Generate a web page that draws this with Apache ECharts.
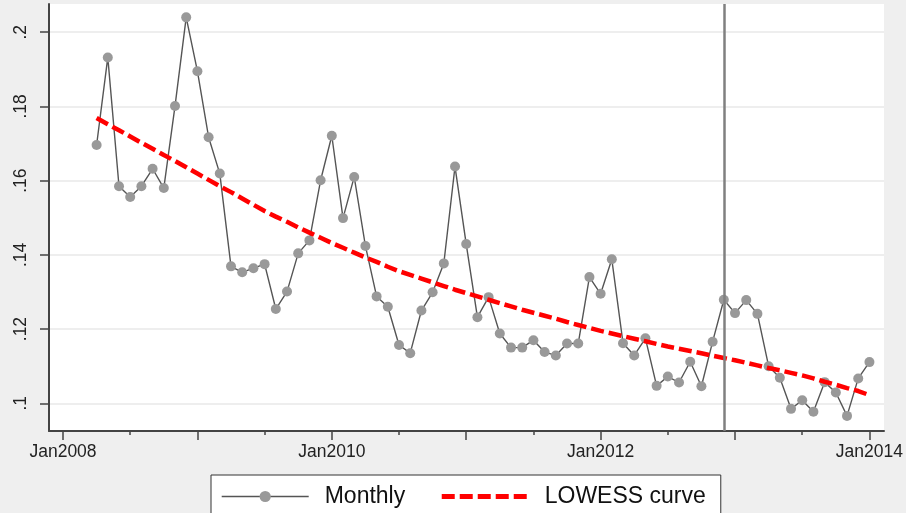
<!DOCTYPE html>
<html>
<head>
<meta charset="utf-8">
<script src="https://cdn.jsdelivr.net/npm/echarts@6/dist/echarts.min.js"></script>
<style>
html,body{margin:0;padding:0;background:#efefef;}
#chart{width:906px;height:513px;}
</style>
</head>
<body>
<div id="chart"></div>
<script>
// Month labels (YYYY-MM) of observations
var monthLabels = [
  '2008-04','2008-05','2008-06','2008-07','2008-08','2008-09','2008-10','2008-11','2008-12',
  '2009-01','2009-02','2009-03','2009-04','2009-05','2009-06','2009-07','2009-08','2009-09','2009-10','2009-11','2009-12',
  '2010-01','2010-02','2010-03','2010-04','2010-05','2010-06','2010-07','2010-08','2010-09','2010-10','2010-11','2010-12',
  '2011-01','2011-02','2011-03','2011-04','2011-05','2011-06','2011-07','2011-08','2011-09','2011-10','2011-11','2011-12',
  '2012-01','2012-02','2012-03','2012-04','2012-05','2012-06','2012-07','2012-08','2012-09','2012-10','2012-11','2012-12',
  '2013-01','2013-02','2013-03','2013-04','2013-05','2013-06','2013-07','2013-08','2013-09','2013-10','2013-11','2013-12',
  '2014-01'
];
// Monthly values
var monthlyValues = [
  0.1696,0.1932,0.1585,0.1556,0.1585,0.1632,0.1580,0.1801,0.2040,
  0.1895,0.1717,0.1619,0.1369,0.1353,0.1364,0.1375,0.1254,0.1301,0.1404,0.1439,0.1601,
  0.1721,0.1499,0.1610,0.1424,0.1288,0.1260,0.1157,0.1135,0.1250,0.1299,0.1377,0.1638,
  0.1429,0.1232,0.1286,0.1188,0.1150,0.1150,0.1170,0.1138,0.1129,0.1161,0.1161,0.1340,
  0.1295,0.1388,0.1162,0.1129,0.1175,0.1047,0.1072,0.1056,0.1112,0.1046,0.1166,0.1279,
  0.1243,0.1278,0.1241,0.1100,0.1069,0.0985,0.1008,0.0977,0.1057,0.1029,0.0966,0.1067,
  0.1111
];
// LOWESS curve values
var lowessValues = [
  0.1769,0.1752,0.1736,0.1719,0.1702,0.1686,0.1669,0.1653,0.1636,
  0.1619,0.1602,0.1585,0.1569,0.1552,0.1535,0.1518,0.1503,0.1489,0.1474,0.1460,0.1446,
  0.1432,0.1419,0.1406,0.1393,0.1381,0.1368,0.1356,0.1346,0.1336,0.1326,0.1316,0.1306,
  0.1297,0.1288,0.1279,0.1270,0.1261,0.1252,0.1244,0.1236,0.1228,0.1219,0.1211,0.1203,
  0.1195,0.1188,0.1181,0.1174,0.1167,0.1160,0.1153,0.1147,0.1141,0.1135,0.1128,0.1122,
  0.1116,0.1109,0.1102,0.1095,0.1089,0.1082,0.1075,0.1067,0.1058,0.1050,0.1041,0.1033,
  0.1022
];
var seriesNames = ['Monthly', 'LOWESS curve'];
var xLabelMonths = ['2008-01','2010-01','2012-01','2014-01'];
var xYearTickMonths = ['2008-01','2009-01','2010-01','2011-01','2012-01','2013-01','2014-01'];
var xHalfTickMonths = ['2008-07','2009-07','2010-07','2011-07','2012-07','2013-07'];
var yTicks = [0.1, 0.12, 0.14, 0.16, 0.18, 0.2];
var markerMonth = '2012-12';

var MON = ['Jan','Feb','Mar','Apr','May','Jun','Jul','Aug','Sep','Oct','Nov','Dec'];
function idx(s){ var p = s.split('-'); return (+p[0] - 2008) * 12 + (+p[1] - 1); }
function fmtX(v){ var y = 2008 + Math.floor(v / 12); var m = Math.round(v - (y - 2008) * 12); return MON[m] + y; }
function fmtY(v){ return String(Math.round(v * 100) / 100).replace(/^0/, ''); }

var monthlyData = monthLabels.map(function(s, i){ return [idx(s), monthlyValues[i]]; });
var lowessData = monthLabels.map(function(s, i){ return [idx(s), lowessValues[i]]; });

var FONT = '"Liberation Sans", Arial, sans-serif';
var xMin = -1.25, xMax = 73.3;

var chart = echarts.init(document.getElementById('chart'));
chart.setOption({
  animation: false,
  backgroundColor: '#efefef',
  grid: { left: 49, top: 4, right: 22, bottom: 82, show: true, backgroundColor: '#ffffff', borderWidth: 0 },
  legend: {
    data: [
      { name: seriesNames[0], lineStyle: { width: 1.4, color: '#555555' } },
      { name: seriesNames[1], itemStyle: { color: 'rgba(0,0,0,0)', borderWidth: 0 }, lineStyle: { width: 5, color: '#ff0000', type: [13, 5] } }
    ],
    left: 211, top: 475,
    itemWidth: 87, itemHeight: 14, itemGap: 34,
    padding: [10, 15, 30, 10],
    backgroundColor: '#ffffff', borderColor: '#333333', borderWidth: 1, borderRadius: 0,
    textStyle: { fontSize: 23, color: '#111111', fontFamily: FONT, padding: [0, 0, 0, 11] }
  },
  xAxis: [
    {
      type: 'value', min: xMin, max: xMax,
      axisLine: { show: true, onZero: false, lineStyle: { color: '#444444', width: 2 } },
      axisTick: { show: true, length: 9, customValues: xYearTickMonths.map(idx), lineStyle: { color: '#444444', width: 1.5 } },
      axisLabel: { show: true, customValues: xLabelMonths.map(idx), formatter: fmtX, fontSize: 17.5, color: '#222222', fontFamily: FONT, margin: 12 },
      splitLine: { show: false }
    },
    {
      type: 'value', min: xMin, max: xMax, position: 'bottom',
      axisLine: { show: false, onZero: false },
      axisTick: { show: true, length: 4, customValues: xHalfTickMonths.map(idx), lineStyle: { color: '#444444', width: 1.5 } },
      axisLabel: { show: false },
      splitLine: { show: false }
    }
  ],
  yAxis: {
    type: 'value', min: 0.09253, max: 0.2076,
    axisLine: { show: true, onZero: false, lineStyle: { color: '#444444', width: 2 } },
    axisTick: { show: true, length: 9, customValues: yTicks, lineStyle: { color: '#444444', width: 1.5 } },
    axisLabel: { show: true, customValues: yTicks, formatter: fmtY, rotate: 90, fontSize: 17.5, color: '#222222', fontFamily: FONT, margin: 19 },
    splitLine: { show: true, lineStyle: { color: '#e8e8e8', width: 1.5 } }
  },
  series: [
    {
      name: seriesNames[0], type: 'line', xAxisIndex: 0,
      data: monthlyData,
      symbol: 'circle', symbolSize: 10, showAllSymbol: true,
      itemStyle: { color: '#999999', borderWidth: 0 },
      lineStyle: { color: '#555555', width: 1.4 },
      z: 2,
      markLine: {
        silent: true, symbol: 'none', label: { show: false },
        lineStyle: { color: '#808080', width: 2.5, type: 'solid' },
        data: [{ xAxis: idx(markerMonth) }]
      }
    },
    {
      name: seriesNames[1], type: 'line', xAxisIndex: 0,
      data: lowessData,
      symbol: 'none', smooth: false,
      lineStyle: { color: '#ff0000', width: 4.5, type: [13, 5] },
      itemStyle: { color: '#ff0000' },
      z: 3
    }
  ]
});
</script>
</body>
</html>
